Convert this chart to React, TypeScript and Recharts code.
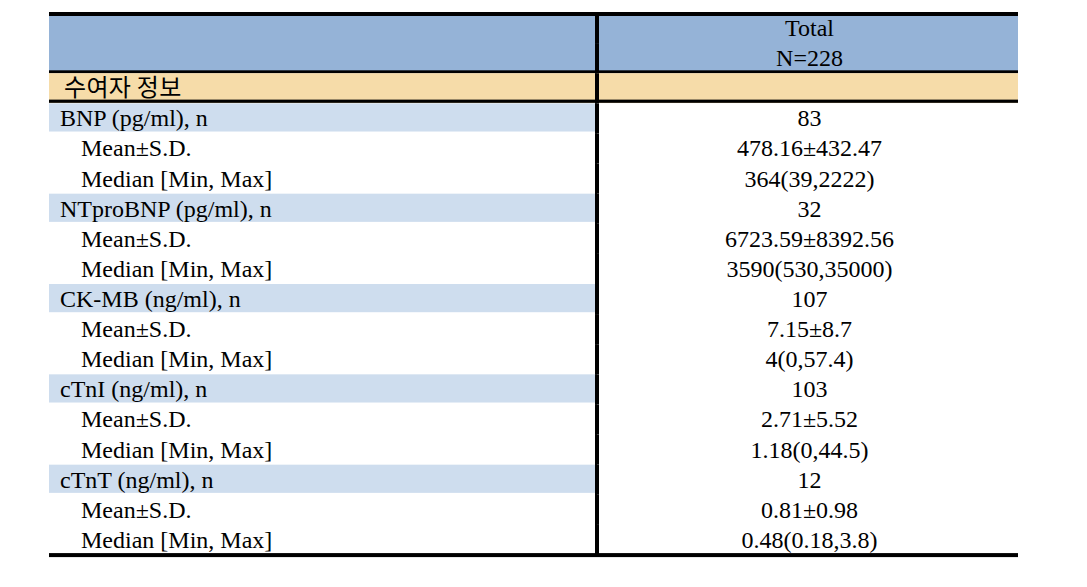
import React from "react";
import { BarChart, Bar, XAxis, YAxis, LabelList } from "recharts";

const rowLabels = [
  "",
  "",
  "수여자 정보",
  "BNP (pg/ml), n",
  "Mean±S.D.",
  "Median [Min, Max]",
  "NTproBNP (pg/ml), n",
  "Mean±S.D.",
  "Median [Min, Max]",
  "CK-MB (ng/ml), n",
  "Mean±S.D.",
  "Median [Min, Max]",
  "cTnI (ng/ml), n",
  "Mean±S.D.",
  "Median [Min, Max]",
  "cTnT (ng/ml), n",
  "Mean±S.D.",
  "Median [Min, Max]",
];

const rowValues = [
  "Total",
  "N=228",
  "",
  "83",
  "478.16±432.47",
  "364(39,2222)",
  "32",
  "6723.59±8392.56",
  "3590(530,35000)",
  "107",
  "7.15±8.7",
  "4(0,57.4)",
  "103",
  "2.71±5.52",
  "1.18(0,44.5)",
  "12",
  "0.81±0.98",
  "0.48(0.18,3.8)",
];

const rowKinds = [
  "header",
  "header",
  "section",
  "group",
  "item",
  "item",
  "group",
  "item",
  "item",
  "group",
  "item",
  "item",
  "group",
  "item",
  "item",
  "group",
  "item",
  "item",
];

const LEFT_W = 548;
const RIGHT_W = 421;

const data = rowLabels.map((label, i) => ({
  key: `r${i}`,
  label,
  value: rowValues[i],
  kind: rowKinds[i],
  left: LEFT_W,
  right: RIGHT_W,
}));

const HEADER_BLUE = "#95B3D7";
const SECTION_TAN = "#F6DCA9";
const GROUP_BLUE = "#CEDDEE";
const LAST = rowLabels.length - 1;

const borders = (x: number, y: number, w: number, h: number, idx: number, kind: string) => {
  const out: React.ReactNode[] = [];
  if (idx === 0) out.push(<rect key="t" x={x} y={y - 1} width={w} height={4} fill="#000" />);
  if (idx === 1) out.push(<rect key="hb" x={x} y={y + h - 2.8} width={w} height={3} fill="#000" />);
  if (kind === "section") out.push(<rect key="sb" x={x} y={y + h - 3.6} width={w} height={3.2} fill="#000" />);
  if (idx === LAST) out.push(<rect key="b" x={x} y={y + h - 1.8} width={w} height={4} fill="#000" />);
  return out;
};

const LeftCell = (p: any) => {
  const { x, y, width, height, payload, index } = p;
  const kind = payload.kind;
  const fill =
    kind === "header" ? HEADER_BLUE : kind === "section" ? SECTION_TAN : kind === "group" ? GROUP_BLUE : "#FFFFFF";
  const h = kind === "group" ? height - 1.8 : kind === "header" && index === 0 ? height + 1 : height;
  return (
    <g>
      <rect x={x} y={y} width={width} height={h} fill={fill} />
      {borders(x, y, width, height, index, kind)}
    </g>
  );
};

const RightCell = (p: any) => {
  const { x, y, width, height, payload, index } = p;
  const kind = payload.kind;
  const fill = kind === "header" ? HEADER_BLUE : kind === "section" ? SECTION_TAN : "#FFFFFF";
  const h = kind === "header" && index === 0 ? height + 1 : height;
  return (
    <g>
      <rect x={x} y={y} width={width} height={h} fill={fill} />
      {borders(x, y, width, height, index, kind)}
      <rect x={x - 2} y={y} width={4} height={height + 0.5} fill="#000" />
    </g>
  );
};

const findIndex = (props: any, arr: string[]) => {
  if (typeof props.index === "number") return props.index;
  return arr.indexOf(props.value);
};

const LeftLabel = (props: any) => {
  const vb = props.viewBox || props;
  const x = props.x ?? vb.x;
  const y = props.y ?? vb.y;
  const height = props.height ?? vb.height;
  const idx = findIndex(props, rowLabels);
  const text = rowLabels[idx];
  if (!text) return null;
  const kind = rowKinds[idx];
  if (kind === "section") {
    return (
      <text
        x={x + 15}
        y={y + height / 2 + 8}
        fontFamily="'Noto Sans CJK KR', sans-serif"
        fontSize={24}
        letterSpacing={0.3}
        fill="#000"
      >
        {text}
      </text>
    );
  }
  const indent = kind === "group" ? 11 : 32;
  return (
    <text
      x={x + indent}
      y={y + height / 2 + 8}
      fontFamily="'Liberation Serif', serif"
      fontSize={24}
      fill="#000"
    >
      {text}
    </text>
  );
};

const RightLabel = (props: any) => {
  const vb = props.viewBox || props;
  const x = props.x ?? vb.x;
  const y = props.y ?? vb.y;
  const width = props.width ?? vb.width;
  const height = props.height ?? vb.height;
  const idx = findIndex(props, rowValues);
  const text = rowValues[idx];
  if (!text) return null;
  return (
    <text
      x={x + width / 2 + 2}
      y={y + height / 2 + 8}
      textAnchor="middle"
      fontFamily="'Liberation Serif', serif"
      fontSize={24}
      fill="#000"
    >
      {text}
    </text>
  );
};

export default function App() {
  return (
    <BarChart
      width={1071}
      height={560}
      data={data}
      layout="vertical"
      margin={{ top: 5, right: 61, left: 41, bottom: 13 }}
      barCategoryGap={0}
      barGap={0}
    >
      <XAxis type="number" domain={[0, LEFT_W + RIGHT_W]} hide />
      <YAxis type="category" dataKey="key" hide />
      <Bar dataKey="left" stackId="t" shape={LeftCell} isAnimationActive={false}>
        <LabelList dataKey="label" content={LeftLabel} />
      </Bar>
      <Bar dataKey="right" stackId="t" shape={RightCell} isAnimationActive={false}>
        <LabelList dataKey="value" content={RightLabel} />
      </Bar>
    </BarChart>
  );
}
